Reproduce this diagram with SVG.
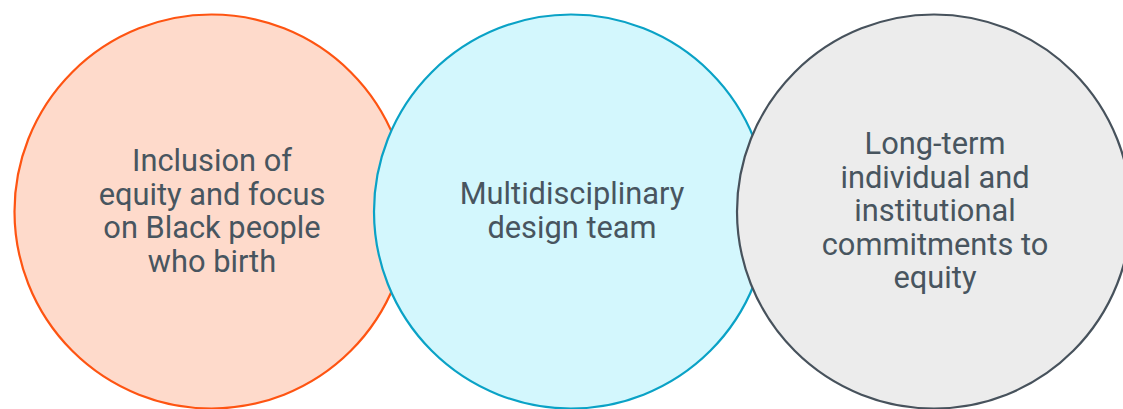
<svg xmlns="http://www.w3.org/2000/svg" width="1123" height="409" viewBox="0 0 1123 409">
<style>
.lbl{font-family:Roboto,"Liberation Sans",sans-serif;font-size:30.8px;fill:#48555f;text-anchor:middle}
</style>
<rect width="1123" height="409" fill="#ffffff"/>
<g id="node1">
<circle cx="211.5" cy="211.5" r="197" fill="#fedacb" stroke="#fe5412" stroke-width="2.2"/>
<text class="lbl"><tspan x="212" y="171">Inclusion of</tspan><tspan x="212" y="204.5">equity and focus</tspan><tspan x="212" y="238">on Black people</tspan><tspan x="212" y="271.5">who birth</tspan></text>
</g>
<g id="node2">
<circle cx="571" cy="211.5" r="197" fill="#d3f7fd" stroke="#0aa2c6" stroke-width="2.2"/>
<text class="lbl"><tspan x="572" y="204">Multidisciplinary</tspan><tspan x="572" y="237.5">design team</tspan></text>
</g>
<g id="node3">
<circle cx="934" cy="211.5" r="197" fill="#ececec" stroke="#47525c" stroke-width="2.2"/>
<text class="lbl"><tspan x="935" y="154">Long-term</tspan><tspan x="935" y="187.5">individual and</tspan><tspan x="935" y="221">institutional</tspan><tspan x="935" y="254.5">commitments to</tspan><tspan x="935" y="288">equity</tspan></text>
</g>
<g id="connectors"></g>
</svg>
